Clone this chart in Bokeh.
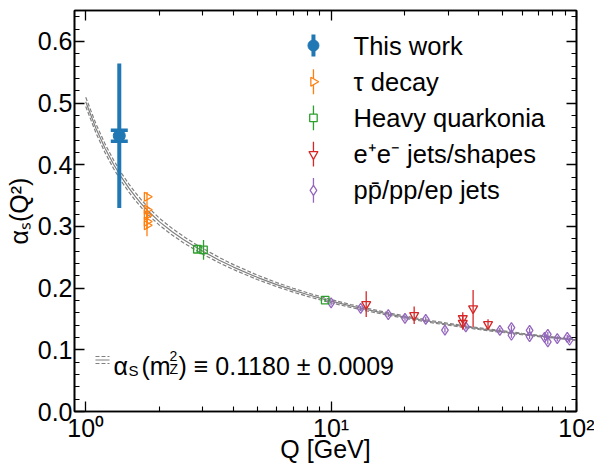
import math
import numpy as np
from bokeh.plotting import figure
from bokeh.models import (ColumnDataSource, Whisker, TeeHead, FixedTicker, LogAxis,
                          LinearAxis, PrintfTickFormatter, CustomJSTickFormatter, Label, Range1d)
from bokeh.embed import file_html
from bokeh.resources import INLINE

# ---------------- data ----------------
# running coupling curve, alpha_s(mZ^2) = 0.1180 +- 0.0009
curve_q = [1.0, 1.1, 1.2, 1.3, 1.4, 1.5, 1.6, 1.7, 1.8, 2.0, 2.25, 2.5, 2.75, 3.0, 3.5, 4.0,
           5.0, 6.0, 7.0, 8.0, 9.0, 10.0, 12.0, 14.0, 17.0, 20.0, 25.0, 30.0, 40.0, 50.0,
           60.0, 70.0, 80.0, 90.0, 100.0]
curve_alpha = [0.502, 0.4591, 0.4263, 0.4003, 0.3794, 0.3621, 0.3476, 0.3351, 0.3245, 0.3074,
               0.2914, 0.2788, 0.2685, 0.2597, 0.2453, 0.2341, 0.2175, 0.2057, 0.1967, 0.1896,
               0.1838, 0.1789, 0.1711, 0.1651, 0.1582, 0.1529, 0.1463, 0.1414, 0.1343, 0.1294,
               0.1256, 0.1226, 0.1201, 0.1180, 0.1161]
curve_err = [0.0075, 0.0073, 0.0071, 0.0069, 0.0067, 0.0065, 0.0063, 0.0062, 0.0060, 0.0057,
             0.0054, 0.0051, 0.0049, 0.0047, 0.0043, 0.0040, 0.0036, 0.0033, 0.0031, 0.0029,
             0.0027, 0.0026, 0.0024, 0.0022, 0.0020, 0.0019, 0.0017, 0.0016, 0.0014, 0.0013,
             0.0012, 0.0011, 0.0010, 0.0009, 0.0009]

this_q = [1.37]
this_alpha = [0.447]
this_err_tot = [0.117]
this_err_stat = [0.009]

tau_q = [1.777, 1.777, 1.777, 1.777, 1.777]
tau_alpha = [0.348, 0.327, 0.318, 0.308, 0.302]
tau_err = [0.008, 0.013, 0.012, 0.012, 0.018]

hq_q = [2.85, 3.02, 9.46]
hq_alpha = [0.263, 0.262, 0.1805]
hq_err = [0.006, 0.016, 0.003]

ee_q = [13.9, 21.8, 34.4, 34.4, 37.9, 43.6]
ee_alpha = [0.174, 0.156, 0.151, 0.1436, 0.167, 0.1415]
ee_err = [0.021, 0.014, 0.010, 0.011, 0.030, 0.008]

pp_q = [10.0, 13.2, 17.1, 20.0, 24.3, 29.1, 35.4, 48.7, 54.3, 54.3, 64.4, 64.4, 74.1, 76.4,
        76.4, 83.5, 91.7, 93.7]
pp_alpha = [0.176, 0.167, 0.157, 0.151, 0.1495, 0.132, 0.137, 0.1315, 0.136, 0.1236, 0.1315,
            0.1215, 0.120, 0.125, 0.113, 0.118, 0.120, 0.1155]
pp_err = [0.004, 0.004, 0.004, 0.004, 0.004, 0.004, 0.004, 0.004, 0.004, 0.004, 0.004, 0.004,
          0.004, 0.004, 0.004, 0.004, 0.004, 0.004]

legend_labels = ["This work", "τ decay", "Heavy quarkonia", "e⁺e⁻ jets/shapes", "pp̄/pp/ep jets"]
curve_label = ") ≡ 0.1180 ± 0.0009"

x_major_ticks = [1, 10, 100]
x_major_labels = {1: "10⁰", 10: "10¹", 100: "10²"}
x_minor_ticks = [2, 3, 4, 5, 6, 7, 8, 9, 20, 30, 40, 50, 60, 70, 80, 90]
y_major_ticks = [0.0, 0.1, 0.2, 0.3, 0.4, 0.5, 0.6]
y_minor_ticks = [0.02, 0.04, 0.06, 0.08, 0.12, 0.14, 0.16, 0.18, 0.22, 0.24, 0.26, 0.28,
                 0.32, 0.34, 0.36, 0.38, 0.42, 0.44, 0.46, 0.48, 0.52, 0.54, 0.56, 0.58,
                 0.62, 0.64]

# ---------------- style ----------------
X_RANGE = (0.9, 100.0)
Y_RANGE = (0.0, 0.65)
C_BLUE, C_ORANGE, C_GREEN, C_RED, C_PURPLE = "#1f77b4", "#ff7f0e", "#2ca02c", "#d62728", "#9467bd"
C_CURVE = "#808080"
FONT = "Liberation Sans"
FS = "25px"
FS_LEG = "25.5px"

p = figure(width=594, height=466, x_axis_type="log",
           x_range=Range1d(*X_RANGE), y_range=Range1d(*Y_RANGE),
           output_backend="svg", toolbar_location=None,
           min_border_left=74, min_border_right=18, min_border_top=10, min_border_bottom=55)
p.grid.visible = False
p.outline_line_color = "black"
p.outline_line_width = 1.6
p.background_fill_color = "white"
p.border_fill_color = "white"


def ax_x(f):
    lx0, lx1 = math.log10(X_RANGE[0]), math.log10(X_RANGE[1])
    return 10 ** (lx0 + f * (lx1 - lx0))


def ax_y(f):
    return Y_RANGE[0] + f * (Y_RANGE[1] - Y_RANGE[0])


# ---------------- curve ----------------
cq = np.array(curve_q)
ca = np.array(curve_alpha)
ce = np.array(curve_err)
p.line(cq, ca + ce, line_color=C_CURVE, line_width=1.2, line_dash="4 2")
p.line(cq, ca - ce, line_color=C_CURVE, line_width=1.2, line_dash="4 2")
p.line(cq, ca, line_color=C_CURVE, line_width=1.2)


def errsrc(qs, vals, errs):
    return ColumnDataSource(dict(q=qs, a=vals,
                                 lo=[v - e for v, e in zip(vals, errs)],
                                 hi=[v + e for v, e in zip(vals, errs)]))


series = [
    (pp_q, pp_alpha, pp_err, C_PURPLE, "diamond", 10, 0.0),
    (ee_q, ee_alpha, ee_err, C_RED, "inverted_triangle", 9, 0.0),
    (hq_q, hq_alpha, hq_err, C_GREEN, "square", 7.5, 0.0),
    (tau_q, tau_alpha, tau_err, C_ORANGE, "triangle", 9, -math.pi / 2),
]
for qs, vals, errs, col, mk, sz, ang in series:
    src = errsrc(qs, vals, errs)
    p.segment(x0="q", y0="lo", x1="q", y1="hi", source=src, line_color=col, line_width=1.3)
    p.scatter("q", "a", source=src, marker=mk, size=sz, angle=ang, line_color=col,
              fill_color=None, line_width=1.3)

# This work
src_this = ColumnDataSource(dict(
    q=this_q, a=this_alpha,
    lo=[v - e for v, e in zip(this_alpha, this_err_tot)],
    hi=[v + e for v, e in zip(this_alpha, this_err_tot)],
    slo=[v - e for v, e in zip(this_alpha, this_err_stat)],
    shi=[v + e for v, e in zip(this_alpha, this_err_stat)]))
p.segment(x0="q", y0="lo", x1="q", y1="hi", source=src_this, line_color=C_BLUE, line_width=4)
p.add_layout(Whisker(source=src_this, base="q", upper="shi", lower="slo", dimension="height",
                     line_color=C_BLUE, line_width=4,
                     upper_head=TeeHead(size=17, line_width=3.5, line_color=C_BLUE),
                     lower_head=TeeHead(size=17, line_width=3.5, line_color=C_BLUE)))
p.scatter("q", "a", source=src_this, marker="circle", size=12, color=C_BLUE)

# ---------------- axes ----------------
xb = p.xaxis[0]
yl = p.yaxis[0]
xb.ticker = FixedTicker(ticks=x_major_ticks, minor_ticks=x_minor_ticks)
xb.major_label_overrides = x_major_labels
xb.axis_label = "Q [GeV]"
yl.ticker = FixedTicker(ticks=y_major_ticks, minor_ticks=y_minor_ticks)
yl.formatter = PrintfTickFormatter(format="%.1f")
yl.axis_label = "αₛ(Q²)"

top = LogAxis(ticker=FixedTicker(ticks=x_major_ticks, minor_ticks=x_minor_ticks),
              formatter=CustomJSTickFormatter(code="return ''"))
right = LinearAxis(ticker=FixedTicker(ticks=y_major_ticks, minor_ticks=y_minor_ticks),
                   formatter=CustomJSTickFormatter(code="return ''"))
p.add_layout(top, "above")
p.add_layout(right, "right")

for ax in (xb, yl, top, right):
    ax.axis_line_color = "black"
    ax.axis_line_width = 1.6
    ax.major_tick_in = 10
    ax.major_tick_out = 0
    ax.minor_tick_in = 5
    ax.minor_tick_out = 0
    ax.major_tick_line_width = 1.3
    ax.minor_tick_line_width = 1.1
    ax.major_tick_line_color = "black"
    ax.minor_tick_line_color = "black"
    ax.major_label_text_font = FONT
    ax.major_label_text_font_size = FS
    ax.major_label_text_color = "black"
    ax.axis_label_text_font = FONT
    ax.axis_label_text_font_size = FS
    ax.axis_label_text_font_style = "normal"
    ax.axis_label_text_color = "black"
    ax.major_label_standoff = 2
for ax in (top, right):
    ax.major_label_text_font_size = "1px"
    ax.major_label_standoff = 0
xb.axis_label_standoff = -10
yl.axis_label_standoff = 2

# ---------------- legend (upper right) ----------------
LEG_TOP, LEG_STEP = 0.9127, 0.0903
LEG_MARK_X, LEG_TEXT_X = 0.476, 0.556
leg_styles = [
    (C_BLUE, "circle", 11, 0.0, 4, 0.0274, True),
    (C_ORANGE, "triangle", 9, -math.pi / 2, 1.3, 0.031, False),
    (C_GREEN, "square", 7.5, 0.0, 1.3, 0.031, False),
    (C_RED, "inverted_triangle", 9, 0.0, 1.3, 0.031, False),
    (C_PURPLE, "diamond", 10, 0.0, 1.3, 0.031, False),
]
for i, (lab, (col, mk, sz, ang, lw, half, filled)) in enumerate(zip(legend_labels, leg_styles)):
    fy = LEG_TOP - i * LEG_STEP
    mx = ax_x(LEG_MARK_X)
    p.segment(x0=[mx], y0=[ax_y(fy - half)], x1=[mx], y1=[ax_y(fy + half)],
              line_color=col, line_width=lw)
    if filled:
        p.scatter(x=[mx], y=[ax_y(fy)], marker=mk, size=sz, color=col)
    else:
        p.scatter(x=[mx], y=[ax_y(fy)], marker=mk, size=sz, angle=ang, line_color=col,
                  fill_color="white", line_width=1.3)
    p.add_layout(Label(x=ax_x(LEG_TEXT_X), y=ax_y(fy), text=lab, text_font=FONT,
                       text_font_size=FS_LEG, text_baseline="middle", text_align="left",
                       text_color="black"))

# ---------------- legend (lower left, curve) ----------------
H_X0, H_X1 = 0.0418, 0.0697
for fy, dash in ((0.1372, "4 2"), (0.1284, "solid"), (0.1197, "4 2")):
    p.line(x=[ax_x(H_X0), ax_x(H_X1)], y=[ax_y(fy), ax_y(fy)], line_color=C_CURVE,
           line_width=1.2, line_dash=dash)

TX, TY = ax_x(0.0777), ax_y(0.1147)
pieces = [("α", 0, 0, FS), ("S", 15, -5, "15px"), ("(m", 28, 0, FS),
          ("2", 56, 10, "14px"), ("Z", 56, -3, "14px"), (curve_label, 65, 0, FS)]
for txt, dx, dy, fs in pieces:
    p.add_layout(Label(x=TX, y=TY, x_offset=dx, y_offset=dy, text=txt, text_font=FONT,
                       text_font_size=fs, text_baseline="alphabetic", text_align="left",
                       text_color="black"))

open("out.html", "w").write(file_html(p, INLINE))
